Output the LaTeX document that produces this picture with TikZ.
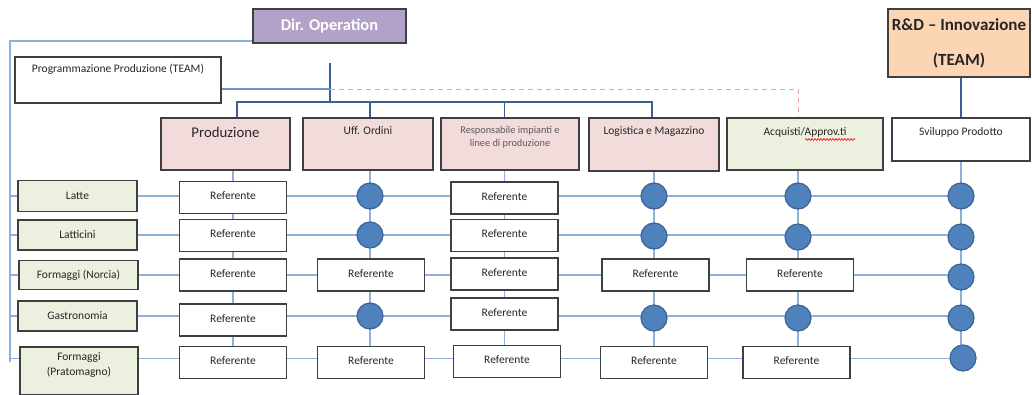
\documentclass[tikz,border=0pt]{standalone}
\usepackage{fontspec}
\setmainfont{Carlito}
\usetikzlibrary{calc,decorations.pathmorphing}
\definecolor{boxline}{HTML}{3F3F3F}
\definecolor{txt}{HTML}{262626}
\definecolor{pinkfill}{HTML}{F2DCDB}
\definecolor{greenfill}{HTML}{EBF1DE}
\definecolor{purplefill}{HTML}{B3A2C7}
\definecolor{peachfill}{HTML}{FCD5B5}
\definecolor{dotfill}{HTML}{4F81BD}
\definecolor{dotline}{HTML}{3A6496}
\definecolor{darkblue}{HTML}{3C5F91}
\definecolor{midblue}{HTML}{6F93C6}
\definecolor{lightblue}{HTML}{8DB0DC}
\definecolor{dashred}{HTML}{E8A0A0}
\definecolor{graytxt}{HTML}{595959}
\pgfdeclarelayer{bg}
\pgfsetlayers{bg,main}
\begin{document}
\begin{tikzpicture}[x=1pt,y=-1pt,
  box/.style={draw=boxline, line width=1.1pt, inner sep=0pt, text=txt},
  ref/.style={box, fill=white, minimum width=107pt, minimum height=32pt, text height=8pt, text depth=4pt, font=\fontsize{11.5}{13}\selectfont},
  cat/.style={box, fill=greenfill, minimum width=119pt, font=\fontsize{11.5}{15}\selectfont, align=center},
  dot/.style={circle, fill=dotfill, draw=dotline, line width=1.2pt, minimum size=26pt, inner sep=0pt},
  toptxt/.style={anchor=center, inner sep=0pt, text=txt, font=\fontsize{11.5}{13}\selectfont},
  dark/.style={draw=darkblue, line width=1.1pt},
  mid/.style={draw=midblue, line width=1.4pt},
  light/.style={draw=lightblue, line width=1.7pt},
]
\useasboundingbox (0,0) rectangle (1032,394);

% top level
\node[box, fill=purplefill, minimum width=153pt, minimum height=34pt, text=white,
      font=\bfseries\fontsize{16.5}{19}\selectfont] (dir) at (329.5,26) {Dir. Operation};
\node[box, fill=peachfill, minimum width=142pt, minimum height=68pt, align=center,
      font=\bfseries\fontsize{17}{35}\selectfont] (rd) at (959,43) {R\&D -- Innovazione\\(TEAM)};
\node[box, fill=white, minimum width=206pt, minimum height=46pt,
      label={[toptxt, yshift=-13pt]north:Programmazione Produzione (TEAM)}] (prog) at (118,80) {};

% second level
\node[box, fill=pinkfill, minimum width=129pt, minimum height=52pt,
      label={[toptxt, yshift=-15pt, font=\fontsize{14.8}{17}\selectfont]north:Produzione}] (prod) at (225.5,144) {};
\node[box, fill=pinkfill, minimum width=130pt, minimum height=52pt,
      label={[toptxt, yshift=-13.5pt]north:Uff. Ordini}] (uff) at (368,144) {};
\node[box, fill=pinkfill, minimum width=138pt, minimum height=52pt,
      label={[toptxt, yshift=-20pt, align=center, text=graytxt, font=\fontsize{10.3}{12.5}\selectfont]north:Responsabile impianti e\\linee di produzione}] (resp) at (510,144) {};
\node[box, fill=pinkfill, minimum width=130pt, minimum height=53pt,
      label={[toptxt, yshift=-14pt]north:Logistica e Magazzino}] (logi) at (654,144.5) {};
\node[box, fill=greenfill, minimum width=156pt, minimum height=52pt,
      label={[toptxt, yshift=-15pt]north:Acquisti/Approv.ti}] (acq) at (805,144) {};
\node[box, fill=white, minimum width=138pt, minimum height=43pt,
      label={[toptxt, yshift=-14.5pt]north:Sviluppo Prodotto}] (sv) at (961,139.5) {};

% categories
\node[cat, minimum height=31pt] (c1) at (77.5,196) {Latte};
\node[cat, minimum height=30pt] (c2) at (77.5,235) {Latticini};
\node[cat, minimum height=29pt] (c3) at (78.5,275) {Formaggi (Norcia)};
\node[cat, minimum height=30pt] (c4) at (77.5,316) {Gastronomia};
\node[cat, minimum width=118pt, minimum height=48pt] (c5) at (79,371) {};
\node[toptxt, align=center, font=\fontsize{11.5}{15}\selectfont] (c5t) at (79,365.5) {Formaggi\\(Pratomagno)};

% column 1
\node[ref] (r11) at (233,197.5) {Referente};
\node[ref] (r12) at (233,235.5) {Referente};
\node[ref] (r13) at (233,275) {Referente};
\node[ref] (r14) at (233,320) {Referente};
\node[ref] (r15) at (233,362.5) {Referente};
% column 2
\node[dot] (r21) at (370,196) {};
\node[dot] (r22) at (370,235) {};
\node[ref] (r23) at (371,275) {Referente};
\node[dot] (r24) at (370,316) {};
\node[ref] (r25) at (371,362.5) {Referente};
% column 3
\node[ref] (r31) at (504.5,198) {Referente};
\node[ref] (r32) at (504.5,235.5) {Referente};
\node[ref] (r33) at (504.5,274) {Referente};
\node[ref] (r34) at (504.5,314) {Referente};
\node[ref] (r35) at (507,361.5) {Referente};
% column 4
\node[dot] (r41) at (654,196) {};
\node[dot] (r42) at (654,236) {};
\node[ref] (r43) at (655.5,275) {Referente};
\node[dot] (r44) at (654,318) {};
\node[ref] (r45) at (654,362.5) {Referente};
% column 5
\node[dot] (r51) at (798,196) {};
\node[dot] (r52) at (798,237) {};
\node[ref] (r53) at (800,275) {Referente};
\node[dot] (r54) at (798,318) {};
\node[ref] (r55) at (796.5,362.5) {Referente};
% column 6
\node[dot] (r61) at (961,196) {};
\node[dot] (r62) at (961,237) {};
\node[dot] (r63) at (961,277) {};
\node[dot] (r64) at (961,318) {};
\node[dot] (r65) at (963,358) {};

% spell-check underline
\draw[red, line width=0.6pt, decorate, decoration={snake, amplitude=0.9pt, segment length=3pt}]
  ($(acq.north)+(0,22)$) -- ($(acq.north)+(50,22)$);

% free coordinates
\coordinate (lft) at (10,41);
\coordinate (lfb) at (10,362);
\coordinate (hub) at (330,63);
\coordinate (hubb) at (330,102);
\coordinate (pj) at (330,89);
\coordinate (b1) at (237,102);
\coordinate (b4) at (652,102);
\coordinate (row5) at ($(c5.north east)+(0,12)$);

\begin{pgfonlayer}{bg}
% top structure
\draw[light] (dir.west |- lft) -- (lft) -- (lfb);
\draw[dark] (hub) -- (hubb);
\draw[mid] (prog.east |- pj) -- (pj);
\draw[dashred, line width=1pt, dash pattern=on 5pt off 4pt] (pj) -| (acq.north -| r51);
\draw[dark] (b1 |- prod.north) -- (b1) -- (b4) -- (b4 |- logi.north);
\draw[dark] (uff.north -| r21) -- (b1 -| r21);
\draw[dark] (resp.north -| r31) -- (b1 -| r31);
\draw[dark] (rd.south -| r61) -- (sv.north -| r61);
% left ticks
\draw[light] (lft |- c1.west) -- (c1.west);
\draw[light] (lft |- c2.west) -- (c2.west);
\draw[light] (lft |- c3.west) -- (c3.west);
\draw[light] (lft |- c4.west) -- (c4.west);
\draw[light] (lft |- row5) -- (c5.west |- row5);
% column lines
\draw[light] (prod.south -| r11) -- (r15);
\draw[light] (uff.south -| r21) -- (r21 |- r25);
\draw[light] (resp.south -| r31) -- (r31 |- r35);
\draw[light] (logi.south -| r41) -- (r41 |- r45);
\draw[light] (acq.south -| r51) -- (r51 |- r55);
\draw[light] (sv.south -| r61) -- (r61 |- r65);
% row lines
\draw[light] (c1.east) -- (c1.east -| r61);
\draw[light] (c2.east) -- (c2.east -| r62);
\draw[light] (c3.east) -- (c3.east -| r63);
\draw[light] (c4.east) -- (c4.east -| r64);
\draw[light] (row5) -- (row5 -| r65);
\end{pgfonlayer}
\end{tikzpicture}
\end{document}
